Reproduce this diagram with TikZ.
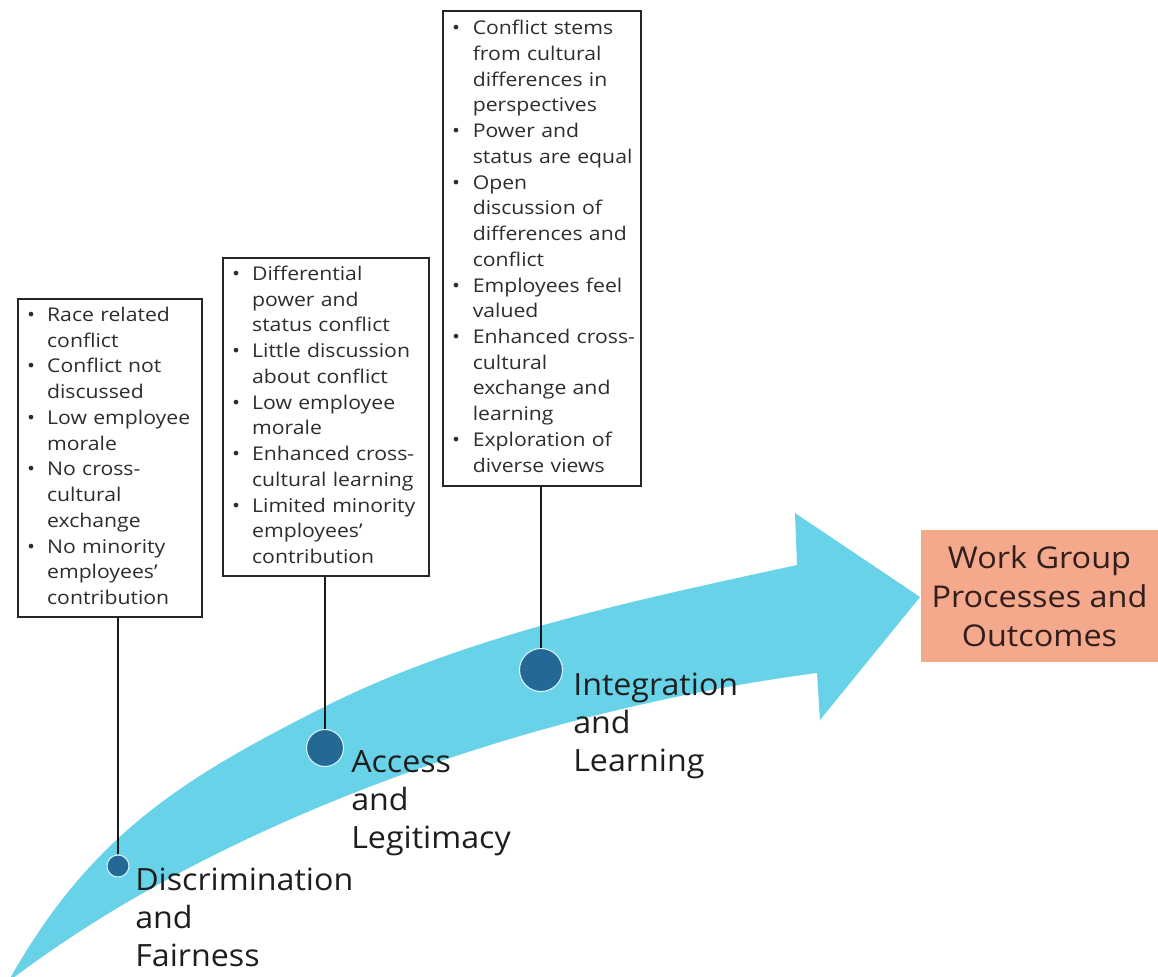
\documentclass[tikz,border=0pt]{standalone}
\usepackage{fontspec}
\setmainfont{Open Sans}
\newfontfamily\boxfont[FakeStretch=1.12]{Open Sans}
\newfontfamily\lblfont[FakeStretch=1.05]{Open Sans}
\newfontfamily\wgfont[FakeStretch=1.08]{Open Sans}
\definecolor{arrowcyan}{RGB}{104,211,232}
\definecolor{dotblue}{RGB}{36,105,150}
\definecolor{salmon}{RGB}{244,168,140}
\definecolor{boxtext}{RGB}{45,45,45}
\definecolor{lbltext}{RGB}{30,30,30}
\definecolor{wgtext}{RGB}{50,30,28}
\newcommand\bl{\textbullet}
\begin{document}
\begin{tikzpicture}[x=0.75pt,y=-0.75pt,
  box/.style={draw=black!85, line width=1.2pt, anchor=north west, inner xsep=7pt, inner ysep=0pt, align=left, minimum height=238.5pt, font=\boxfont\fontsize{14.2}{19.3}\selectfont, text=boxtext},
  lbl/.style={anchor=base west, align=left, inner sep=0pt, font=\lblfont\fontsize{23}{28.5}\selectfont, text=lbltext},
  dot/.style={circle, fill=dotblue, draw=white!75!arrowcyan, line width=0.8pt, inner sep=0pt},
  link/.style={line width=1.5pt, draw=black!90}]
\useasboundingbox (0,0) rectangle (1158,977);
\begin{scope}
\clip (0,0) rectangle (1158,977);
\fill[arrowcyan] (8,982) .. controls (90,835) and (183,778) .. (326,706)
  .. controls (469,634.5) and (641,599) .. (797,565)
  -- (795,513) -- (920,597) -- (820,720) -- (817,673)
  .. controls (520,712) and (210,827) .. (8,982) -- cycle;
\end{scope}

\node[box, text width=124pt] (b1) at (17,298) {%
\begin{tabular}{@{}p{15pt}@{}l@{}}
\bl & Race related\\ & conflict\\
\bl & Conflict not\\ & discussed\\
\bl & Low employee\\ & morale\\
\bl & No cross-\\ & cultural\\ & exchange\\
\bl & No minority\\ & employees’\\ & contribution
\end{tabular}};

\node[box, text width=140.5pt] (b2) at (222,257) {%
\begin{tabular}{@{}p{15pt}@{}l@{}}
\bl & Differential\\ & power and\\ & status conflict\\
\bl & Little discussion\\ & about conflict\\
\bl & Low employee\\ & morale\\
\bl & Enhanced cross-\\ & cultural learning\\
\bl & Limited minority\\ & employees’\\ & contribution
\end{tabular}};

\node[box, text width=134.5pt, minimum height=356.25pt] (b3) at (442,10) {%
\begin{tabular}{@{}p{15.5pt}@{}l@{}}
\bl & Conflict stems\\ & from cultural\\ & differences in\\ & perspectives\\
\bl & Power and\\ & status are equal\\
\bl & Open\\ & discussion of\\ & differences and\\ & conflict\\
\bl & Employees feel\\ & valued\\
\bl & Enhanced cross-\\ & cultural\\ & exchange and\\ & learning\\
\bl & Exploration of\\ & diverse views
\end{tabular}};

\node[dot, minimum size=16.5pt] (c1) at (118,866) {};
\node[dot, minimum size=27.75pt] (c2) at (325,748) {};
\node[dot, minimum size=32.25pt] (c3) at (541,670) {};

\draw[link] (c1.north) -- (c1.north |- b1.south);
\draw[link] (c2.north) -- (c2.north |- b2.south);
\draw[link] (c3.north) -- (c3.north |- b3.south);

\node[lbl] (l1) at (135,966) {Discrimination\\and\\Fairness};
\node[lbl] (l2) at (351,848) {Access\\and\\Legitimacy};
\node[lbl] (l3) at (573,771) {Integration\\and\\Learning};

\node[fill=salmon, minimum width=177.75pt, minimum height=99pt, inner sep=0pt, align=center,
  font=\wgfont\fontsize{22.5}{29.25}\selectfont, text=wgtext] (wg) at (1039.5,596) {Work Group\\Processes and\\Outcomes};
\end{tikzpicture}
\end{document}
